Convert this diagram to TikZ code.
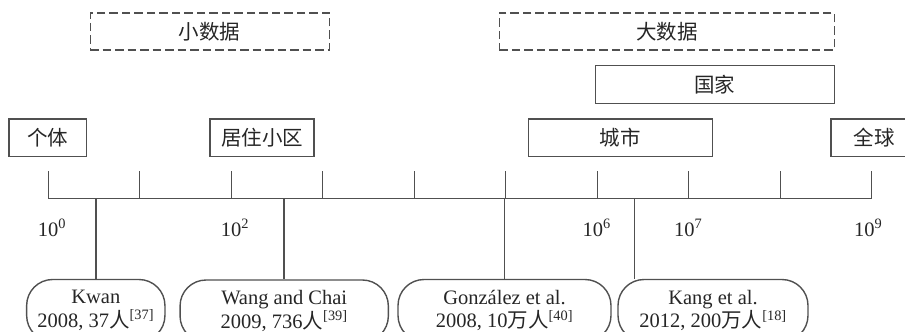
\documentclass[tikz,border=0pt]{standalone}
\usepackage{fontspec}
\setmainfont{Liberation Serif}
\newfontfamily\cjk[Scale=1.0]{Noto Sans CJK SC}
\definecolor{ln}{HTML}{505050}
\tikzset{
  txt/.style={font=\fontsize{20.5}{23.5}\selectfont, text=black!85},
  box/.style={txt, draw=ln, line width=1.4pt, inner sep=0pt},
  dbox/.style={box, dash pattern=on 8.5pt off 4pt},
  rbox/.style={box, rounded corners=26pt, align=center, minimum height=62pt},
  axisline/.style={draw=ln, line width=1.3pt},
}
\begin{document}
\begin{tikzpicture}[x=1pt, y=-1pt]
  \useasboundingbox (0,0) rectangle (905,332);
  \clip (0,0) rectangle (905,332);
  % top boxes
  \node[dbox, minimum width=239pt, minimum height=37pt] (small) at (209.7,31.3) {\cjk 小数据};
  \node[dbox, minimum width=335pt, minimum height=37pt] (big) at (666.8,31.3) {\cjk 大数据};
  \node[box, minimum width=239pt, minimum height=37.5pt] (nation) at (714.7,84.5) {\cjk 国家};
  \node[box, minimum width=77.7pt, minimum height=37.5pt] (indiv) at (47.8,137.8) {\cjk 个体};
  \node[box, minimum width=104pt, minimum height=37.5pt] (nbhd) at (262,137.8) {\cjk 居住小区};
  \node[box, minimum width=184pt, minimum height=37.5pt] (city) at (620.3,137.8) {\cjk 城市};
  \node[box, minimum width=86pt, minimum height=37.5pt] (globe) at (874,137.8) {\cjk 全球};
  % axis
  \foreach \i in {0,...,9} {
    \coordinate (t\i) at (48.3+\i*91.49,198.5);
    \draw[axisline] (t\i) -- ++(0,-27.5);
  }
  \draw[axisline] (t0) -- (t9);
  % tick labels
  \node[txt, anchor=base] (l0) at (52,236.5) {10\textsuperscript{0}};
  \node[txt, anchor=base] (l2) at (235,236.5) {10\textsuperscript{2}};
  \node[txt, anchor=base] (l6) at (596.7,236.5) {10\textsuperscript{6}};
  \node[txt, anchor=base] (l7) at (688.3,236.5) {10\textsuperscript{7}};
  \node[txt, anchor=base] (l9) at (868.3,236.5) {10\textsuperscript{9}};
  % study boxes
  \node[rbox, minimum width=138.3pt] (kwan) at (95.8,310.5) {Kwan\\2008, 37{\cjk 人}\textsuperscript{[37]}};
  \node[rbox, minimum width=208.3pt] (wang) at (284.2,311) {Wang and Chai\\2009, 736{\cjk 人}\textsuperscript{[39]}};
  \node[rbox, minimum width=213pt] (gonz) at (504.5,310.5) {González et al.\\2008, 10{\cjk 万人}\textsuperscript{[40]}};
  \node[rbox, minimum width=190pt] (kang) at (713,310.5) {Kang et al.\\2012, 200{\cjk 万人}\textsuperscript{[18]}};
  % drop lines
  \coordinate (d1) at (96,198.5);
  \coordinate (d2) at (284,198.5);
  \coordinate (d3) at (504.3,198.5);
  \coordinate (d4) at (634.3,198.5);
  \draw[axisline] (d1) -- (d1 |- kwan.north);
  \draw[axisline] (d2) -- (d2 |- wang.north);
  \draw[axisline] (d3) -- (d3 |- gonz.north);
  \draw[axisline] (d4) -- (d4 |- kang.north);
\end{tikzpicture}
\end{document}
